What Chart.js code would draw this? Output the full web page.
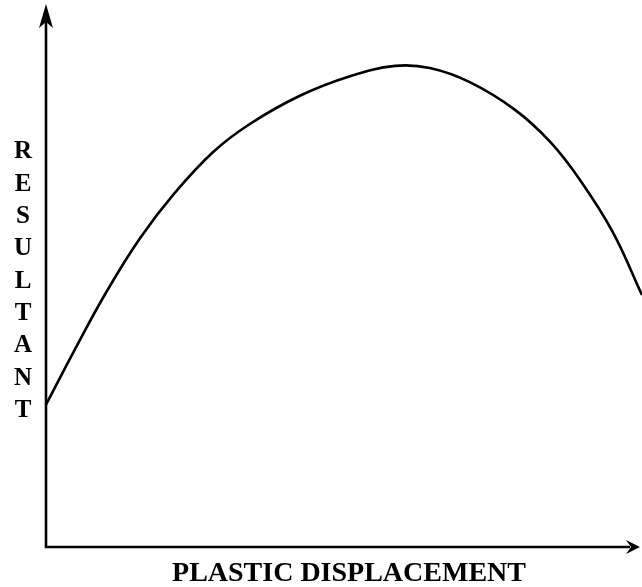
<!DOCTYPE html>
<html>
<head>
<meta charset="utf-8">
<script src="https://cdn.jsdelivr.net/npm/chart.js@4"></script>
<style>
    html, body { margin: 0; padding: 0; background: #fff; }
    #wrap { width: 642px; height: 587px; position: relative; }
</style>
</head>
<body>
<div id="wrap"><canvas id="curveChart"></canvas></div>
<script>
// displacement (x) and resultant (y), both in % of the axis length
const displacement = [0, 4.9, 10.2, 15.8, 21.6, 28.0, 34.2, 42.6, 51.0, 58.6, 64.4, 71.1, 78.7, 84.6, 89.6, 95.1, 100];
const resultant = [26.2, 36.5, 47.1, 56.9, 65.2, 72.7, 77.9, 83.1, 86.7, 88.6, 88.2, 85.6, 80.5, 74.6, 67.6, 58.0, 46.4];
const yLetters = ["R", "E", "S", "U", "L", "T", "A", "N", "T"];
const xTitle = "PLASTIC DISPLACEMENT";

const points = displacement.map((d, i) => ({ x: d, y: resultant[i] }));

// axes with arrow heads plus the two titles
const axesPlugin = {
    id: "arrowAxes",
    afterDraw(chart) {
        const ctx = chart.ctx;
        const xs = chart.scales.x, ys = chart.scales.y;
        const x0 = xs.getPixelForValue(0);
        const y0 = ys.getPixelForValue(0);
        const top = ys.getPixelForValue(100);
        const right = xs.getPixelForValue(100) - 2;

        ctx.save();
        ctx.strokeStyle = "#000";
        ctx.fillStyle = "#000";
        ctx.lineWidth = 2.6;
        ctx.beginPath();
        ctx.moveTo(x0, top + 10);
        ctx.lineTo(x0, y0);
        ctx.lineTo(right - 10, y0);
        ctx.stroke();

        // up arrow
        ctx.beginPath();
        ctx.moveTo(x0, top);
        ctx.lineTo(x0 + 7, top + 24);
        ctx.lineTo(x0, top + 18);
        ctx.lineTo(x0 - 7, top + 24);
        ctx.closePath();
        ctx.fill();

        // right arrow
        ctx.beginPath();
        ctx.moveTo(right, y0);
        ctx.lineTo(right - 14, y0 - 7);
        ctx.lineTo(right - 9, y0);
        ctx.lineTo(right - 14, y0 + 7);
        ctx.closePath();
        ctx.fill();

        ctx.font = "bold 25px 'Liberation Serif', 'Times New Roman', serif";
        ctx.textAlign = "center";
        ctx.textBaseline = "middle";
        yLetters.forEach((ch, i) => {
            ctx.fillText(ch, 23, 152 + i * 32.3);
        });

        ctx.font = "bold 28px 'Liberation Serif', 'Times New Roman', serif";
        ctx.fillText(xTitle, 349, 574);
        ctx.restore();
    }
};

new Chart(document.getElementById("curveChart"), {
    type: "line",
    data: {
        datasets: [
            {
                data: points,
                borderColor: "#000",
                borderWidth: 2.6,
                pointRadius: 0,
                fill: false,
                tension: 0.4,
                clip: false,
            },
        ],
    },
    options: {
        responsive: true,
        maintainAspectRatio: false,
        animation: false,
        layout: {
            padding: { left: 46, right: 0, top: 4, bottom: 40 },
        },
        plugins: {
            legend: { display: false },
            tooltip: { enabled: false },
        },
        scales: {
            x: { type: "linear", min: 0, max: 100, display: false },
            y: { min: 0, max: 100, display: false },
        },
    },
    plugins: [axesPlugin],
});
</script>
</body>
</html>
